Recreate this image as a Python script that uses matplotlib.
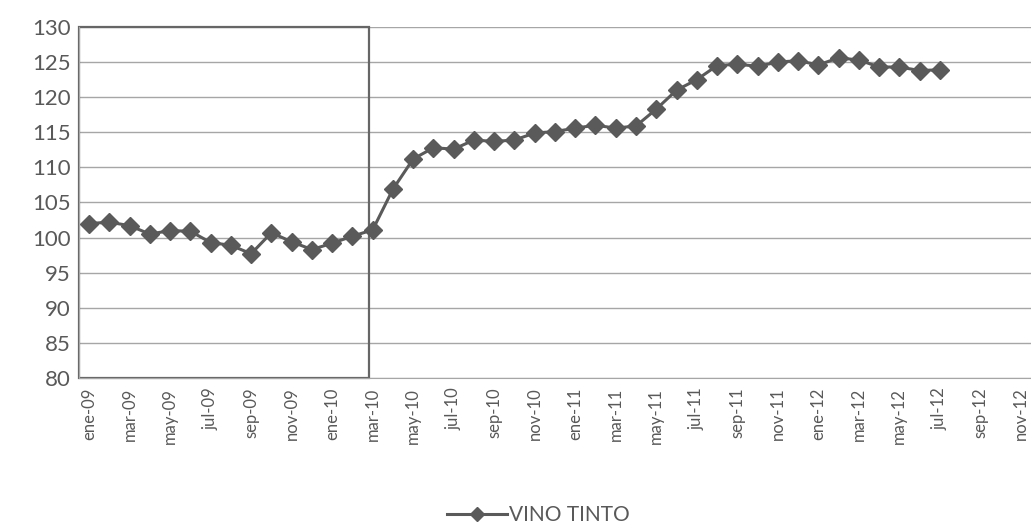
import matplotlib
matplotlib.use("Agg")
import matplotlib.pyplot as plt
from matplotlib.patches import Rectangle
from matplotlib.lines import Line2D

# Monthly categories on the x axis (ene-09 .. nov-12)
years = ["09", "10", "11", "12"]
month_abbr = ["ene", "feb", "mar", "abr", "may", "jun",
              "jul", "ago", "sep", "oct", "nov", "dic"]
months = [f"{m}-{y}" for y in years for m in month_abbr][:47]

# Index values for red wine, ene-09 .. jul-12
vino_tinto = [102.0, 102.2, 101.7, 100.5, 101.0, 100.9, 99.3, 98.9, 97.7, 100.7,
              99.4, 98.3, 99.2, 100.2, 101.1, 106.9, 111.2, 112.8, 112.6, 113.9,
              113.7, 113.9, 114.9, 115.1, 115.6, 116.0, 115.6, 115.9, 118.3, 121.0,
              122.5, 124.5, 124.7, 124.4, 125.0, 125.2, 124.6, 125.6, 125.3, 124.3,
              124.3, 123.8, 123.9]

y_ticks = list(range(80, 131, 5))
series_name = "VINO TINTO"

# Highlighted period: from the start of the series up to mar-10
highlight_end = 13.8

text_color = "#595959"
line_color = "#5a5a5a"
grid_color = "#a6a6a6"

plt.rcParams["font.family"] = ["Lato", "DejaVu Sans"]

fig = plt.figure(figsize=(10.31, 5.27), dpi=100)
ax = fig.add_axes([0.0766, 0.2827, 0.9234, 0.6661])

x = list(range(len(vino_tinto)))
ax.plot(x, vino_tinto, color=line_color, linewidth=2.2, marker="D",
        markersize=9.5, markerfacecolor=line_color, markeredgecolor=line_color,
        zorder=3)

ax.set_xlim(-0.5, len(months) - 0.5)
ax.set_ylim(y_ticks[0], y_ticks[-1])
ax.set_yticks(y_ticks)
ax.set_yticklabels([str(v) for v in y_ticks], fontsize=16, color=text_color)
ax.set_xticks(range(0, len(months), 2))
ax.set_xticklabels(months[::2], rotation=90, fontsize=12, color=text_color)
ax.tick_params(axis="y", length=0, pad=6)
ax.tick_params(axis="x", length=0, pad=7)

ax.grid(axis="y", color=grid_color, linewidth=1.0, zorder=0)
for side in ["top", "right"]:
    ax.spines[side].set_visible(False)
ax.spines["left"].set_color(grid_color)
ax.spines["bottom"].set_color(grid_color)

# Box framing the first period
ax.add_patch(Rectangle((-0.5, y_ticks[0]), highlight_end + 0.5,
                       y_ticks[-1] - y_ticks[0], fill=False,
                       edgecolor="#666666", linewidth=1.6, zorder=2,
                       clip_on=False))

handle = Line2D([], [], color=line_color, linewidth=2.2, marker="D",
                markersize=7, markerfacecolor=line_color,
                markeredgecolor=line_color)
fig.legend([handle], [series_name], loc="lower center",
           bbox_to_anchor=(0.522, -0.032), frameon=False, fontsize=15,
           labelcolor=text_color, handlelength=2.9, handletextpad=0.1)

fig.savefig("out.png", dpi=100, facecolor="white")
